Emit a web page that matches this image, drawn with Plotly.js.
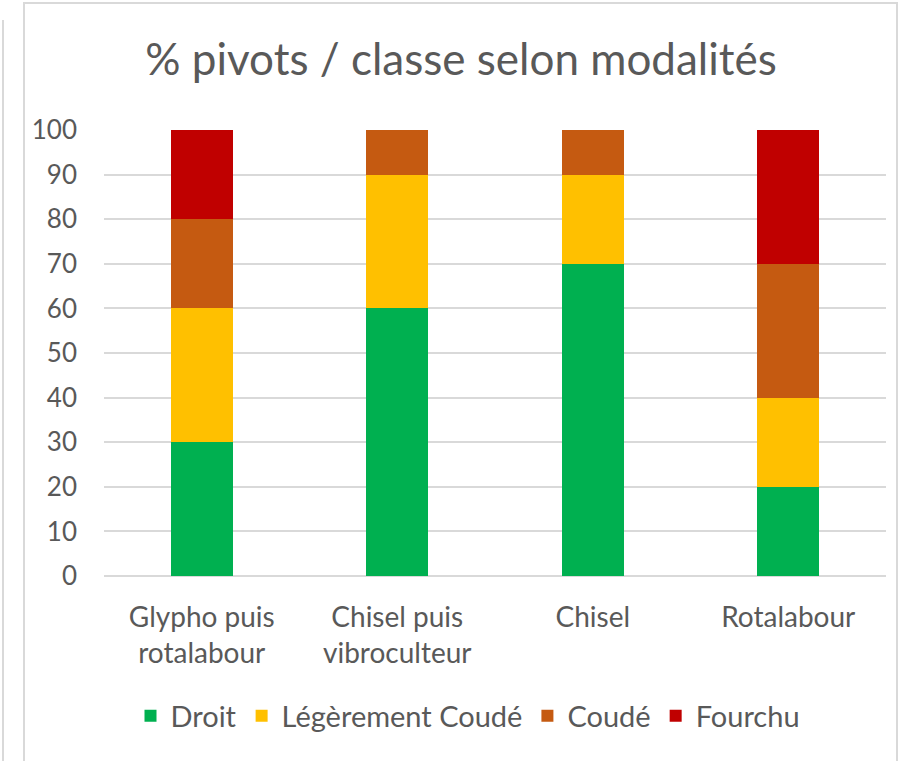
<!DOCTYPE html>
<html><head><meta charset="utf-8">
<script src="https://cdn.plot.ly/plotly-3.0.1.min.js"></script>
<style>html,body{margin:0;padding:0;background:#fff;overflow:hidden}#c{width:901px;height:761px}</style>
</head><body><div id="c"></div>
<script>
const categories = ["Glypho puis<br>rotalabour", "Chisel puis<br>vibroculteur", "Chisel", "Rotalabour"];
const seriesNames = ["Droit", "Légèrement Coudé", "Coudé", "Fourchu"];
const droit = [30, 60, 70, 20];
const legerementCoude = [30, 30, 20, 20];
const coude = [20, 10, 10, 30];
const fourchu = [20, 0, 0, 30];
const yTicks = [0,10,20,30,40,50,60,70,80,90,100];
const colors = ["#00B050", "#FFC000", "#C55A11", "#C00000"];
const values = [droit, legerementCoude, coude, fourchu];

const font = "Lato, 'Open Sans', sans-serif";
const traces = values.map((v, i) => ({
  type: "bar", name: seriesNames[i], x: categories, y: v,
  marker: {color: colors[i], line: {width: 0}},
  hoverinfo: "x+y+name"
}));

const W = 901, H = 761, mL = 104, mR = 15, mT = 130, mB = 185;
const pw = W - mL - mR, ph = H - mT - mB;
const px = x => (x - mL) / pw;
const py = y => (H - mB - y) / ph;

const layout = {
  width: W, height: H,
  margin: {l: mL, r: mR, t: mT, b: mB, pad: 0},
  paper_bgcolor: "rgba(0,0,0,0)", plot_bgcolor: "rgba(0,0,0,0)",
  barmode: "stack", bargap: 0.683,
  font: {family: font, color: "#595959"},
  title: {text: "% pivots / classe selon modalités", font: {size: 44, color: "#595959", family: font},
          x: 461 / W, xref: "container", xanchor: "center", y: 1 - 60 / H, yref: "container", yanchor: "middle"},
  xaxis: {type: "category", tickfont: {size: 28, color: "#595959"}, showgrid: false, zeroline: false,
          showline: false, ticks: "", ticklabelstandoff: 22, fixedrange: true},
  yaxis: {range: [0, 100], tickvals: yTicks, tickfont: {size: 26, color: "#595959"}, showgrid: true,
          gridcolor: "#D9D9D9", gridwidth: 2, zeroline: true, zerolinecolor: "#D9D9D9", zerolinewidth: 2,
          showline: false, ticks: "", ticklabelstandoff: 26, fixedrange: true},
  legend: {orientation: "h", x: 468 / W, xref: "container", xanchor: "center", y: 1 - 716 / H, yref: "container",
           yanchor: "middle", font: {size: 29, color: "#595959"}, traceorder: "normal", itemwidth: 30},
  shapes: [
    {type: "rect", xref: "paper", yref: "paper", x0: px(24), x1: px(897), y0: py(800), y1: py(3),
     line: {color: "#D9D9D9", width: 2}, fillcolor: "rgba(0,0,0,0)", layer: "below"},
    {type: "line", xref: "paper", yref: "paper", x0: px(3), x1: px(3), y0: py(800), y1: py(20),
     line: {color: "#D9D9D9", width: 2}, layer: "below"}
  ],
  showlegend: true
};
Plotly.newPlot("c", traces, layout, {displayModeBar: false, staticPlot: true});
</script></body></html>
